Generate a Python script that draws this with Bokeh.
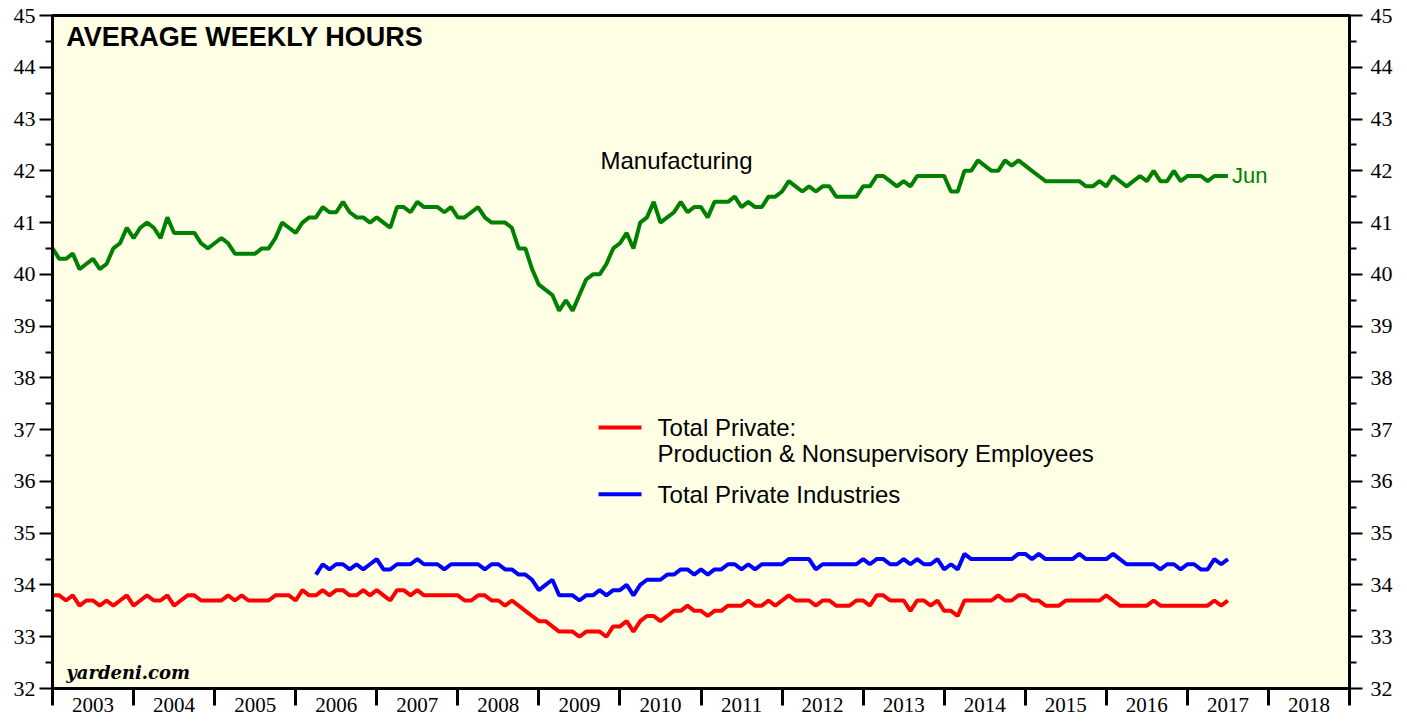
import pandas as pd
from bokeh.plotting import figure
from bokeh.models import Range1d, LinearAxis, FixedTicker, Label, CustomJSTickFormatter
from bokeh.embed import file_html
from bokeh.resources import INLINE

# ---- data (monthly, Dec 2002 .. Jun 2017) ----
months = pd.date_range("2002-12-01", periods=175, freq="MS")

manufacturing = [
    40.5, 40.3, 40.3, 40.4, 40.1, 40.2, 40.3, 40.1, 40.2, 40.5, 40.6, 40.9,
    40.7, 40.9, 41.0, 40.9, 40.7, 41.1, 40.8, 40.8, 40.8, 40.8, 40.6, 40.5,
    40.6, 40.7, 40.6, 40.4, 40.4, 40.4, 40.4, 40.5, 40.5, 40.7, 41.0, 40.9,
    40.8, 41.0, 41.1, 41.1, 41.3, 41.2, 41.2, 41.4, 41.2, 41.1, 41.1, 41.0,
    41.1, 41.0, 40.9, 41.3, 41.3, 41.2, 41.4, 41.3, 41.3, 41.3, 41.2, 41.3,
    41.1, 41.1, 41.2, 41.3, 41.1, 41.0, 41.0, 41.0, 40.9, 40.5, 40.5, 40.1,
    39.8, 39.7, 39.6, 39.3, 39.5, 39.3, 39.6, 39.9, 40.0, 40.0, 40.2, 40.5,
    40.6, 40.8, 40.5, 41.0, 41.1, 41.4, 41.0, 41.1, 41.2, 41.4, 41.2, 41.3,
    41.3, 41.1, 41.4, 41.4, 41.4, 41.5, 41.3, 41.4, 41.3, 41.3, 41.5, 41.5,
    41.6, 41.8, 41.7, 41.6, 41.7, 41.6, 41.7, 41.7, 41.5, 41.5, 41.5, 41.5,
    41.7, 41.7, 41.9, 41.9, 41.8, 41.7, 41.8, 41.7, 41.9, 41.9, 41.9, 41.9,
    41.9, 41.6, 41.6, 42.0, 42.0, 42.2, 42.1, 42.0, 42.0, 42.2, 42.1, 42.2,
    42.1, 42.0, 41.9, 41.8, 41.8, 41.8, 41.8, 41.8, 41.8, 41.7, 41.7, 41.8,
    41.7, 41.9, 41.8, 41.7, 41.8, 41.9, 41.8, 42.0, 41.8, 41.8, 42.0, 41.8,
    41.9, 41.9, 41.9, 41.8, 41.9, 41.9, 41.9,
]

production_nonsupervisory = [
    33.8, 33.8, 33.7, 33.8, 33.6, 33.7, 33.7, 33.6, 33.7, 33.6, 33.7, 33.8,
    33.6, 33.7, 33.8, 33.7, 33.7, 33.8, 33.6, 33.7, 33.8, 33.8, 33.7, 33.7,
    33.7, 33.7, 33.8, 33.7, 33.8, 33.7, 33.7, 33.7, 33.7, 33.8, 33.8, 33.8,
    33.7, 33.9, 33.8, 33.8, 33.9, 33.8, 33.9, 33.9, 33.8, 33.8, 33.9, 33.8,
    33.9, 33.8, 33.7, 33.9, 33.9, 33.8, 33.9, 33.8, 33.8, 33.8, 33.8, 33.8,
    33.8, 33.7, 33.7, 33.8, 33.8, 33.7, 33.7, 33.6, 33.7, 33.6, 33.5, 33.4,
    33.3, 33.3, 33.2, 33.1, 33.1, 33.1, 33.0, 33.1, 33.1, 33.1, 33.0, 33.2,
    33.2, 33.3, 33.1, 33.3, 33.4, 33.4, 33.3, 33.4, 33.5, 33.5, 33.6, 33.5,
    33.5, 33.4, 33.5, 33.5, 33.6, 33.6, 33.6, 33.7, 33.6, 33.6, 33.7, 33.6,
    33.7, 33.8, 33.7, 33.7, 33.7, 33.6, 33.7, 33.7, 33.6, 33.6, 33.6, 33.7,
    33.7, 33.6, 33.8, 33.8, 33.7, 33.7, 33.7, 33.5, 33.7, 33.7, 33.6, 33.7,
    33.5, 33.5, 33.4, 33.7, 33.7, 33.7, 33.7, 33.7, 33.8, 33.7, 33.7, 33.8,
    33.8, 33.7, 33.7, 33.6, 33.6, 33.6, 33.7, 33.7, 33.7, 33.7, 33.7, 33.7,
    33.8, 33.7, 33.6, 33.6, 33.6, 33.6, 33.6, 33.7, 33.6, 33.6, 33.6, 33.6,
    33.6, 33.6, 33.6, 33.6, 33.7, 33.6, 33.7,
]

# Total private industries (all employees) starts Mar 2006
total_private_start = "2006-03-01"
total_private = [
    34.2, 34.4, 34.3, 34.4, 34.4, 34.3, 34.4, 34.3, 34.4,
    34.5, 34.3, 34.3, 34.4, 34.4, 34.4, 34.5, 34.4, 34.4, 34.4, 34.3, 34.4,
    34.4, 34.4, 34.4, 34.4, 34.3, 34.4, 34.4, 34.3, 34.3, 34.2, 34.2, 34.1,
    33.9, 34.0, 34.1, 33.8, 33.8, 33.8, 33.7, 33.8, 33.8, 33.9, 33.8, 33.9,
    33.9, 34.0, 33.8, 34.0, 34.1, 34.1, 34.1, 34.2, 34.2, 34.3, 34.3, 34.2,
    34.3, 34.2, 34.3, 34.3, 34.4, 34.4, 34.3, 34.4, 34.3, 34.4, 34.4, 34.4,
    34.4, 34.5, 34.5, 34.5, 34.5, 34.3, 34.4, 34.4, 34.4, 34.4, 34.4, 34.4,
    34.5, 34.4, 34.5, 34.5, 34.4, 34.4, 34.5, 34.4, 34.5, 34.4, 34.4, 34.5,
    34.3, 34.4, 34.3, 34.6, 34.5, 34.5, 34.5, 34.5, 34.5, 34.5, 34.5, 34.6,
    34.6, 34.5, 34.6, 34.5, 34.5, 34.5, 34.5, 34.5, 34.6, 34.5, 34.5, 34.5,
    34.5, 34.6, 34.5, 34.4, 34.4, 34.4, 34.4, 34.4, 34.3, 34.4, 34.4, 34.3,
    34.4, 34.4, 34.3, 34.3, 34.5, 34.4, 34.5,
]

year_labels = list(range(2003, 2019))
y_ticks = list(range(32, 46))

# month-end position as fractional year
def frac_year(dates):
    return [d.year + d.month / 12.0 for d in dates]

x_all = frac_year(months)
tp_months = pd.date_range(total_private_start, periods=len(total_private), freq="MS")
x_tp = frac_year(tp_months)

GREEN, RED, BLUE = "#008000", "#FF0000", "#0000FF"
SANS = "Liberation Sans"
SERIF = "Liberation Serif"

p = figure(width=1403, height=721, output_backend="svg", toolbar_location=None,
           x_range=Range1d(2003, 2019), y_range=Range1d(32, 45),
           min_border_left=52, min_border_right=54, min_border_top=15,
           min_border_bottom=33)
p.background_fill_color = "#FFFFE6"
p.border_fill_color = "white"
p.outline_line_color = "black"
p.outline_line_width = 3
p.xgrid.visible = False
p.ygrid.visible = False

# bottom axis: year labels centred, boundary ticks as minor ticks
xa = p.xaxis[0]
xa.ticker = FixedTicker(ticks=[y + 0.5 for y in year_labels],
                        minor_ticks=list(range(2003, 2020)))
xa.formatter = CustomJSTickFormatter(code="return String(Math.floor(tick));")
xa.major_tick_line_color = None
xa.major_tick_out = 0
xa.major_tick_in = 0
xa.minor_tick_line_color = "black"
xa.minor_tick_line_width = 3
xa.minor_tick_out = 17
xa.minor_tick_in = 0
xa.axis_line_width = 3
xa.major_label_standoff = -8
xa.major_label_text_font = SERIF
xa.major_label_text_font_size = "21px"
xa.major_label_text_color = "black"


def style_y(ax, standoff):
    ax.ticker = FixedTicker(ticks=y_ticks, minor_ticks=[v + 0.5 for v in y_ticks[:-1]])
    ax.major_tick_out = 13
    ax.major_tick_in = 0
    ax.minor_tick_out = 7
    ax.minor_tick_in = 0
    ax.major_tick_line_width = 2
    ax.minor_tick_line_width = 2
    ax.major_tick_line_color = "black"
    ax.minor_tick_line_color = "black"
    ax.axis_line_width = 3
    ax.major_label_standoff = standoff
    ax.major_label_text_font = SERIF
    ax.major_label_text_font_size = "22px"
    ax.major_label_text_color = "black"


style_y(p.yaxis[0], 4)
ry = LinearAxis()
style_y(ry, 8)
p.add_layout(ry, "right")

# series
p.line(x_all, manufacturing, line_color=GREEN, line_width=4)
p.line(x_all, production_nonsupervisory, line_color=RED, line_width=4)
p.line(x_tp, total_private, line_color=BLUE, line_width=4)

# texts
p.add_layout(Label(x=2003.17, y=44.59, text="AVERAGE WEEKLY HOURS", text_font=SANS,
                   text_font_style="bold", text_font_size="27px", text_baseline="middle",
                   text_color="black"))
p.add_layout(Label(x=2009.76, y=42.2, text="Manufacturing", text_font=SANS,
                   text_font_size="24px", text_baseline="middle", text_color="black"))
p.add_layout(Label(x=x_all[-1], y=manufacturing[-1], x_offset=4, text="Jun", text_font=SANS,
                   text_font_size="22px", text_baseline="middle", text_color=GREEN))
p.add_layout(Label(x=2003.17, y=32.31, text="yardeni.com", text_font="DejaVu Serif",
                   text_font_style="bold italic", text_font_size="18px",
                   text_baseline="middle", text_color="black"))

# legend (manual)
p.segment(x0=[2009.736], y0=[37.04], x1=[2010.266], y1=[37.04], line_color=RED, line_width=4)
p.segment(x0=[2009.736], y0=[35.75], x1=[2010.266], y1=[35.75], line_color=BLUE, line_width=4)
for yy, txt in [(37.04, "Total Private:"),
                (36.54, "Production & Nonsupervisory Employees"),
                (35.75, "Total Private Industries")]:
    p.add_layout(Label(x=2010.464, y=yy, text=txt, text_font=SANS, text_font_size="24px",
                       text_baseline="middle", text_color="black"))

open("out.html", "w").write(file_html(p, INLINE))
